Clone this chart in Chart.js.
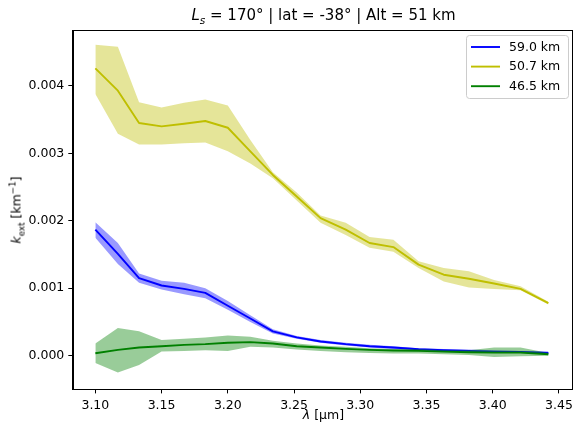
<!DOCTYPE html>
<html>
<head>
<meta charset="utf-8">
<script src="https://cdn.jsdelivr.net/npm/chart.js@4/dist/chart.umd.min.js"></script>
<style>
  body { margin: 0; background: #fff; }
  #wrap { position: relative; width: 578px; height: 429px; font-family: "DejaVu Sans", sans-serif; color: #000; }
  #wrap canvas { position: absolute; left: 0; top: 0; }
  .lab { position: absolute; white-space: nowrap; transform: translate(-50%, -50%); }
  #title { left: 323.5px; top: 15px; font-size: 15px; }
  #xlab { left: 323.5px; top: 414px; font-size: 12.5px; }
  #ylab { left: 16px; top: 210px; font-size: 12.5px; transform: translate(-50%, -50%) rotate(-90deg); }
  sub, sup { font-size: 70%; line-height: 0; }
</style>
</head>
<body>
<div id="wrap">
  <canvas id="chart" width="578" height="429"></canvas>
  <div class="lab" id="title"><i>L<sub>s</sub></i> = 170° | lat = -38° | Alt = 51 km</div>
  <div class="lab" id="xlab"><i>λ</i> [μm]</div>
  <div class="lab" id="ylab"><i>k</i><sub>ext</sub> [km<sup>−1</sup>]</div>
</div>
<script>
const wavelength = [3.100, 3.117, 3.133, 3.150, 3.167, 3.183, 3.200, 3.217, 3.234, 3.252,
  3.270, 3.289, 3.307, 3.325, 3.344, 3.363, 3.382, 3.401, 3.421, 3.442];

// 59.0 km
const blueMean = [0.00187, 0.00151, 0.00115, 0.00104, 0.00099, 0.00093, 0.00074, 0.00055, 0.00036, 0.00027,
  0.00021, 0.00017, 0.00014, 0.00012, 0.000095, 0.00008, 0.00007, 0.00006, 0.000055, 0.00004];
const blueHigh = [0.00198, 0.00167, 0.00122, 0.00111, 0.00108, 0.00100, 0.00081, 0.00060, 0.00039, 0.00029,
  0.00023, 0.00019, 0.00016, 0.00014, 0.00011, 0.00010, 0.00009, 0.00008, 0.00007, 0.00006];
const blueLow = [0.00175, 0.00136, 0.00108, 0.00098, 0.00091, 0.00085, 0.00068, 0.00050, 0.00033, 0.00025,
  0.00019, 0.00015, 0.00012, 0.00010, 0.00008, 0.00006, 0.00005, 0.00004, 0.00004, 0.00002];

// 50.7 km
const yellowMean = [0.00426, 0.00393, 0.00345, 0.00340, 0.00344, 0.00348, 0.00338, 0.00303, 0.00268, 0.00236,
  0.00204, 0.00187, 0.00167, 0.00161, 0.00135, 0.00120, 0.00114, 0.00107, 0.00099, 0.00078];
const yellowHigh = [0.00461, 0.00458, 0.00376, 0.00368, 0.00375, 0.00380, 0.00371, 0.00320, 0.00272, 0.00242,
  0.00208, 0.00197, 0.00176, 0.00172, 0.00140, 0.00130, 0.00125, 0.00112, 0.00103, 0.00080];
const yellowLow = [0.00388, 0.00329, 0.00313, 0.00313, 0.00315, 0.00316, 0.00303, 0.00285, 0.00263, 0.00230,
  0.00197, 0.00179, 0.00160, 0.00154, 0.00130, 0.00110, 0.00101, 0.00099, 0.00097, 0.00076];

// 46.5 km
const greenMean = [0.000035, 0.000085, 0.00012, 0.00014, 0.00016, 0.00017, 0.00019, 0.00020, 0.00018, 0.00014,
  0.00012, 0.00010, 0.000085, 0.000075, 0.00007, 0.00006, 0.00005, 0.000045, 0.000045, 0.00002];
const greenHigh = [0.00018, 0.00041, 0.00036, 0.00023, 0.00025, 0.00027, 0.00030, 0.00028, 0.00022, 0.00018,
  0.00015, 0.00013, 0.00011, 0.00010, 0.00010, 0.00008, 0.00008, 0.00012, 0.00012, 0.00004];
const greenLow = [-0.00011, -0.00025, -0.00014, 0.00006, 0.00007, 0.00008, 0.00007, 0.00013, 0.00012, 0.00009,
  0.00007, 0.00005, 0.00004, 0.00003, 0.00003, 0.00002, 0.00001, -0.00002, -0.00001, 0.00000];

const xTicks = [3.10, 3.15, 3.20, 3.25, 3.30, 3.35, 3.40, 3.45];
const yTicks = [0, 0.001, 0.002, 0.003, 0.004];

const pts = (ys) => wavelength.map((x, i) => ({ x: x, y: ys[i] }));

function lineSet(label, ys, color) {
  return {
    label: label,
    data: pts(ys),
    borderColor: color,
    borderWidth: 1.9,
    borderJoinStyle: "round",
    pointRadius: 0,
    fill: false,
    isMean: true,
  };
}

function bandSet(ys, fillTo, color) {
  return {
    data: pts(ys),
    borderWidth: 0,
    pointRadius: 0,
    fill: fillTo,
    backgroundColor: color,
  };
}

// drawn from last to first, so blue ends up at the bottom and green on top
const datasets = [
  lineSet("46.5 km", greenMean, "#008000"),
  bandSet(greenHigh, false, "rgba(0,0,0,0)"),
  bandSet(greenLow, 1, "rgba(0,128,0,0.4)"),
  lineSet("50.7 km", yellowMean, "#bfbf00"),
  bandSet(yellowHigh, false, "rgba(0,0,0,0)"),
  bandSet(yellowLow, 4, "rgba(191,191,0,0.4)"),
  lineSet("59.0 km", blueMean, "#0000ff"),
  bandSet(blueHigh, false, "rgba(0,0,0,0)"),
  bandSet(blueLow, 7, "rgba(0,0,255,0.4)"),
];

const frameAndLegend = {
  id: "frameAndLegend",
  afterDraw(chart) {
    const { ctx, chartArea: a } = chart;
    ctx.save();
    ctx.strokeStyle = "#000";
    ctx.lineWidth = 1;
    ctx.strokeRect(Math.round(a.left) + 0.5, Math.round(a.top) + 0.5,
      Math.round(a.right - a.left), Math.round(a.bottom - a.top));

    // legend box, top right
    const entries = chart.data.datasets.filter((d) => d.isMean).reverse();
    const bx = 466.5, by = 35.5, bw = 102, bh = 63;
    ctx.fillStyle = "rgba(255,255,255,0.8)";
    ctx.strokeStyle = "#cccccc";
    ctx.beginPath();
    ctx.roundRect(bx, by, bw, bh, 3);
    ctx.fill();
    ctx.stroke();
    ctx.font = "12.5px 'DejaVu Sans'";
    ctx.textBaseline = "middle";
    entries.forEach((d, i) => {
      const y = 47 + i * 19.6;
      ctx.strokeStyle = d.borderColor;
      ctx.lineWidth = 1.9;
      ctx.beginPath();
      ctx.moveTo(471, y);
      ctx.lineTo(500, y);
      ctx.stroke();
      ctx.fillStyle = "#000";
      ctx.fillText(d.label, 509, y + 0.5);
    });
    ctx.restore();
  },
};

new Chart(document.getElementById("chart"), {
  type: "line",
  data: { datasets: datasets },
  options: {
    responsive: false,
    animation: false,
    events: [],
    layout: { padding: { left: 0, top: 30, right: 4, bottom: 0 } },
    plugins: {
      legend: { display: false },
      tooltip: { enabled: false },
      title: { display: false },
    },
    scales: {
      x: {
        type: "linear",
        min: 3.0829,
        max: 3.4596,
        afterBuildTicks: (s) => { s.ticks = xTicks.map((v) => ({ value: v })); },
        afterFit: (s) => { s.height = 40; },
        grid: { drawOnChartArea: false, tickLength: 4.4, color: "#000", tickWidth: 1 },
        border: { color: "#000", width: 1 },
        ticks: {
          color: "#000",
          font: { family: "DejaVu Sans", size: 12.5 },
          padding: 5,
          maxRotation: 0,
          callback: (v) => v.toFixed(2),
        },
      },
      y: {
        min: -0.000495,
        max: 0.00483,
        afterBuildTicks: (s) => { s.ticks = yTicks.map((v) => ({ value: v })); },
        afterFit: (s) => { s.width = 72.7; },
        grid: { drawOnChartArea: false, tickLength: 4.4, color: "#000", tickWidth: 1 },
        border: { color: "#000", width: 1 },
        ticks: {
          color: "#000",
          font: { family: "DejaVu Sans", size: 12.5 },
          padding: 4,
          callback: (v) => v.toFixed(3),
        },
      },
    },
  },
  plugins: [frameAndLegend],
});
</script>
</body>
</html>
